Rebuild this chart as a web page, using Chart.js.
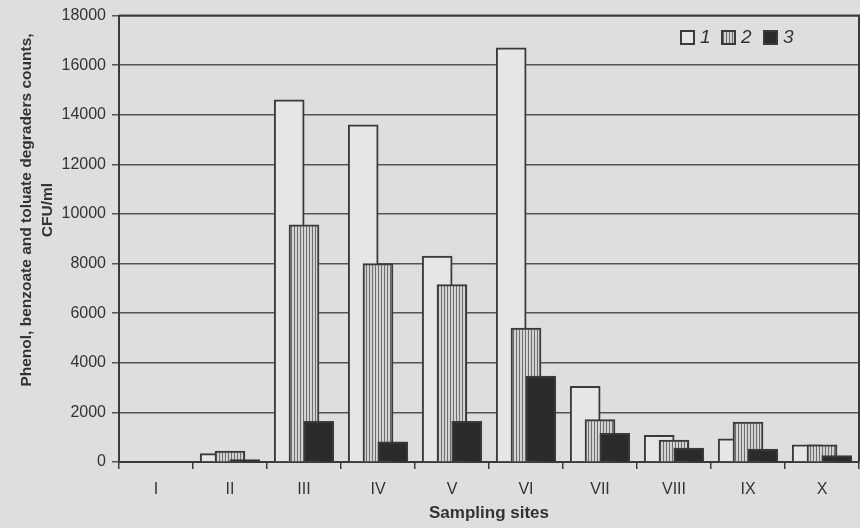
<!DOCTYPE html>
<html>
<head>
<meta charset="utf-8">
<script src="https://cdn.jsdelivr.net/npm/chart.js@4.4.1/dist/chart.umd.min.js"></script>
<style>
    html, body { margin: 0; padding: 0; background: #dedede; }
    #contenedor { width: 860px; height: 528px; }
</style>
</head>
<body>
<div id="contenedor"><canvas id="canvas_grafica" width="860" height="528"></canvas></div>
<script>
// Datos
const sitios = ['I', 'II', 'III', 'IV', 'V', 'VI', 'VII', 'VIII', 'IX', 'X'];
const serie_1 = [0, 340, 14600, 13600, 8300, 16700, 3050, 1080, 930, 690];
const serie_2 = [0, 440, 9560, 8000, 7150, 5400, 1710, 880, 1610, 690];
const serie_3 = [0, 100, 1640, 810, 1640, 3460, 1160, 560, 520, 260];
const nombres_series = ['1', '2', '3'];
const ticks_y = [0, 2000, 4000, 6000, 8000, 10000, 12000, 14000, 16000, 18000];
const titulo_y = ['Phenol, benzoate and toluate degraders counts,', 'CFU/ml'];
const titulo_x = 'Sampling sites';

const fuente = '"Liberation Sans", Arial, sans-serif';
const color_texto = '#333';
const color_borde = '#3a3a3a';

const canvas = document.getElementById('canvas_grafica');
const ctx = canvas.getContext('2d');

// patron de rayas verticales para la serie 2
function crear_rayas() {
    const c = document.createElement('canvas');
    c.width = 3; c.height = 3;
    const g = c.getContext('2d');
    g.fillStyle = '#d2d2d2';
    g.fillRect(0, 0, 3, 3);
    g.fillStyle = '#6e6e6e';
    g.fillRect(0, 0, 1, 3);
    return ctx.createPattern(c, 'repeat');
}
const rayas = crear_rayas();

const rellenos = ['#e6e6e6', rayas, '#2b2b2b'];
const desplazamientos = [-0.2, 0, 0.2]; // posicion dentro de cada sitio

function puntos(serie, k) {
    return serie.map((v, i) => ({ x: i + 1 + desplazamientos[k], y: v }));
}

// marco superior y derecho del area de la grafica
const marco = {
    id: 'marco',
    afterDatasetsDraw(chart) {
        const a = chart.chartArea;
        const c = chart.ctx;
        c.save();
        c.strokeStyle = color_borde;
        c.lineWidth = 2;
        c.beginPath();
        c.moveTo(a.left, a.top);
        c.lineTo(a.right, a.top);
        c.lineTo(a.right, a.bottom);
        c.stroke();
        c.restore();
    }
};

// titulo del eje y en dos lineas
const titulo_eje_y = {
    id: 'titulo_eje_y',
    afterDraw(chart) {
        const c = chart.ctx;
        const xs = [27, 48];
        c.save();
        c.fillStyle = color_texto;
        c.font = 'bold 15.5px ' + fuente;
        c.textAlign = 'center';
        c.textBaseline = 'middle';
        titulo_y.forEach((t, i) => {
            c.save();
            c.translate(xs[i], 210);
            c.rotate(-Math.PI / 2);
            c.fillText(t, 0, 0);
            c.restore();
        });
        c.restore();
    }
};

// leyenda dentro del area
const leyenda = {
    id: 'leyenda',
    afterDraw(chart) {
        const c = chart.ctx;
        const cajas = [681, 722, 764];
        c.save();
        c.font = 'italic 19px ' + fuente;
        c.textBaseline = 'middle';
        nombres_series.forEach((n, i) => {
            c.fillStyle = rellenos[i];
            c.fillRect(cajas[i], 31, 13, 13);
            c.strokeStyle = color_borde;
            c.lineWidth = 2;
            c.strokeRect(cajas[i], 31, 13, 13);
            c.fillStyle = color_texto;
            c.fillText(n, cajas[i] + 19, 38);
        });
        c.restore();
    }
};

const series = [serie_1, serie_2, serie_3];

new Chart(ctx, {
    type: 'bar',
    data: {
        labels: sitios,
        datasets: series.map((s, k) => ({
            label: nombres_series[k],
            data: puntos(s, k),
            xAxisID: 'xb',
            yAxisID: 'y',
            backgroundColor: rellenos[k],
            borderColor: color_borde,
            borderWidth: 2,
            barThickness: 30,
            grouped: false,
            order: 2 - k
        }))
    },
    options: {
        responsive: false,
        animation: false,
        layout: { padding: { top: 11, right: 1, left: 0, bottom: 0 } },
        plugins: {
            legend: { display: false },
            tooltip: { enabled: false }
        },
        scales: {
            x: {
                type: 'category',
                labels: sitios,
                offset: true,
                grid: {
                    offset: true,
                    drawOnChartArea: false,
                    color: color_borde,
                    lineWidth: 1.5,
                    tickLength: 7
                },
                border: { color: color_borde, width: 2 },
                ticks: {
                    color: color_texto,
                    font: { family: fuente, size: 16 },
                    padding: 11,
                    maxRotation: 0
                },
                title: {
                    display: true,
                    text: titulo_x,
                    color: color_texto,
                    font: { family: fuente, size: 17, weight: 'bold' },
                    padding: { top: 0, bottom: 4 }
                },
                afterFit(s) { s.height = 66; }
            },
            xb: {
                type: 'linear',
                min: 0.5,
                max: 10.5,
                offset: false,
                display: false
            },
            y: {
                min: 0,
                max: 18000,
                afterBuildTicks(s) { s.ticks = ticks_y.map(v => ({ value: v })); },
                grid: {
                    color: '#555',
                    lineWidth: 1.5,
                    tickLength: 7
                },
                border: { color: color_borde, width: 2 },
                ticks: {
                    color: color_texto,
                    font: { family: fuente, size: 16 },
                    padding: 6,
                    callback: v => String(v)
                },
                afterFit(s) { s.width = 119; }
            }
        }
    },
    plugins: [marco, titulo_eje_y, leyenda]
});
</script>
</body>
</html>
